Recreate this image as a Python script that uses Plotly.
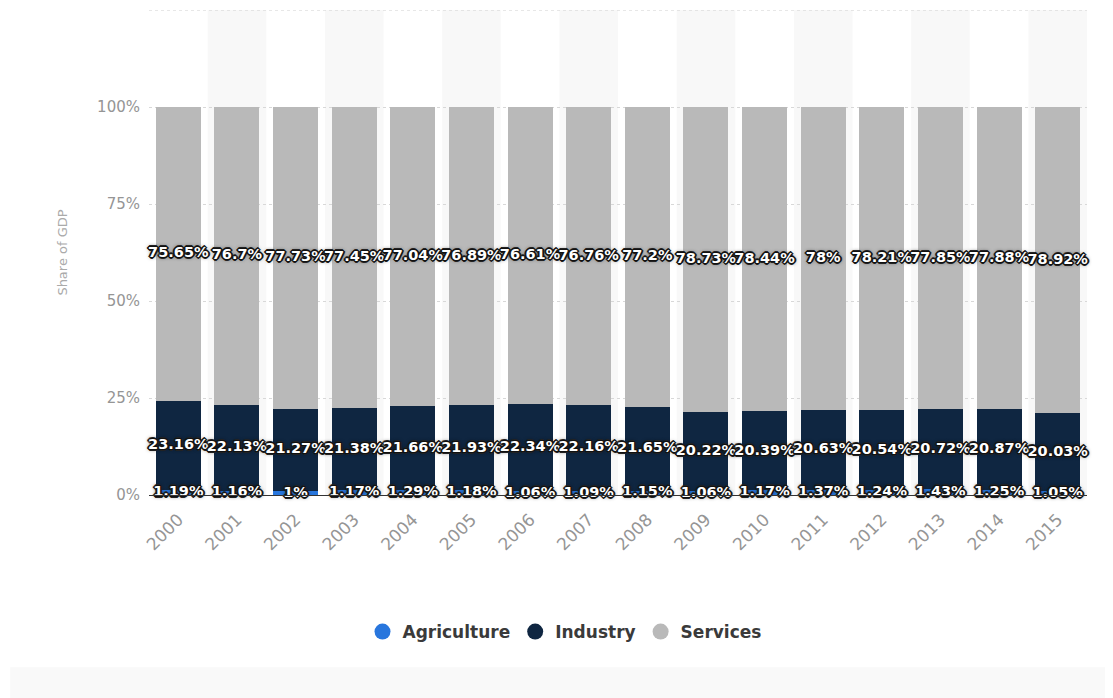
import plotly.graph_objects as go

years = [str(y) for y in range(2000, 2016)]
agriculture = [1.19, 1.16, 1.00, 1.17, 1.29, 1.18, 1.06, 1.09, 1.15, 1.06, 1.17, 1.37, 1.24, 1.43, 1.25, 1.05]
industry = [23.16, 22.13, 21.27, 21.38, 21.66, 21.93, 22.34, 22.16, 21.65, 20.22, 20.39, 20.63, 20.54, 20.72, 20.87, 20.03]
services = [75.65, 76.7, 77.73, 77.45, 77.04, 76.89, 76.61, 76.76, 77.2, 78.73, 78.44, 78.0, 78.21, 77.85, 77.88, 78.92]

series = [
    ("Agriculture", agriculture, "#2876dd"),
    ("Industry", industry, "#0f2641"),
    ("Services", services, "#b9b9b9"),
]

def fmt(v):
    s = f"{v:.2f}".rstrip("0").rstrip(".")
    return s + "%"

shadow = ("-1px -1px 0 #111, 1px -1px 0 #111, -1px 1px 0 #111, 1px 1px 0 #111, "
          "0 -2px 0 #222, 0 2px 0 #222, -2px 0 0 #222, 2px 0 0 #222, 0 0 4px #000")

fig = go.Figure()
base = [0.0] * len(years)
for name, vals, color in series:
    fig.add_trace(go.Bar(
        x=years, y=vals, name=name, marker=dict(color=color, line=dict(width=0)),
        showlegend=False, hoverinfo="x+y+name",
    ))
    mids = [b + v / 2 for b, v in zip(base, vals)]
    fig.add_trace(go.Scatter(
        x=years, y=mids, mode="text", text=[fmt(v) for v in vals],
        textposition="middle center", cliponaxis=False, showlegend=False, hoverinfo="skip",
        textfont=dict(family="DejaVu Sans", size=14.5, color="white", weight="bold", shadow=shadow),
    ))
    base = [b + v for b, v in zip(base, vals)]

for name, vals, color in series:
    fig.add_trace(go.Scatter(
        x=[None], y=[None], mode="markers", name=name,
        marker=dict(symbol="circle", size=16, color=color),
    ))

shapes = []
for i in range(len(years)):
    if i % 2 == 1:
        shapes.append(dict(type="rect", xref="x", yref="y", x0=i - 0.5, x1=i + 0.5,
                           y0=0, y1=125, fillcolor="#f8f8f8", line=dict(width=0), layer="below"))
shapes.append(dict(type="line", xref="paper", yref="y", x0=0, x1=1, y0=125, y1=125,
                   line=dict(color="#d0d0d0", width=1, dash="dot"), layer="above"))
shapes.append(dict(type="rect", xref="paper", yref="paper", x0=-0.148, x1=1.04,
                   y0=-0.45, y1=-0.355, fillcolor="#f9f9f9", line=dict(width=0), layer="below"))

fig.update_layout(
    width=1113, height=698,
    barmode="stack", bargap=0.232,
    margin=dict(l=141, r=34, t=2, b=211),
    paper_bgcolor="white", plot_bgcolor="white",
    shapes=shapes,
    legend=dict(orientation="h", xref="container", yref="container", x=0.5, xanchor="center",
                y=0.106, yanchor="middle", traceorder="normal",
                font=dict(family="DejaVu Sans", size=17, color="#3a3a3a", weight="bold"),
                itemsizing="trace"),
    xaxis=dict(type="category", tickangle=-45, showgrid=False,
               tickfont=dict(family="DejaVu Sans", size=17, color="#959595"),
               showline=True, linecolor="#333333", linewidth=1, layer="above traces",
               ticks="", range=[-0.5, 15.5], automargin=False, ticklabelstandoff=7),
    yaxis=dict(range=[0, 125], tickvals=[0, 25, 50, 75, 100],
               ticktext=["0%", "25%", "50%", "75%", "100%"],
               showgrid=True, gridcolor="#d8d8d8", griddash="dot", gridwidth=1,
               zeroline=False, automargin=False,
               tickfont=dict(family="DejaVu Sans", size=15, color="#959595"),
               title=dict(text="Share of GDP", font=dict(family="DejaVu Sans", size=13, color="#aaaaaa"),
                          standoff=26),
               ticklabelstandoff=8),
)

fig.write_html("out.html")
